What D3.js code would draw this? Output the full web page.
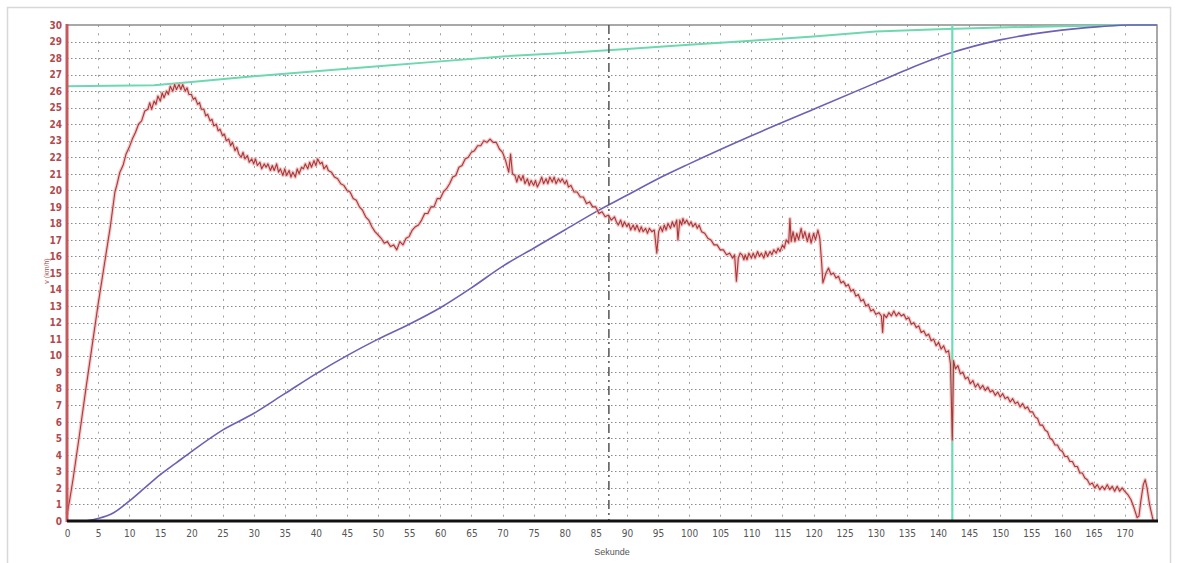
<!DOCTYPE html>
<html>
<head>
<meta charset="utf-8">
<script src="https://cdn.jsdelivr.net/npm/d3@7/dist/d3.min.js"></script>
<style>
  html, body { margin: 0; padding: 0; background: #fff; }
  svg { display: block; }
</style>
</head>
<body>
<svg id="chart" width="1177" height="563"></svg>
<script>
// ---------- DATA ----------
const xTicks = d3.range(0, 171, 5);
const yTicks = d3.range(0, 31, 1);
const xTitle = "Sekunde";
const yTitle = "v (km/h)";

// speed (red)
const speedSeries = [
  [0,0.4],[0.4,1.2],[1,2.6],[2,5.2],[3,7.9],[4,10.5],[5,13.1],[6,15.5],[7,17.9],[7.7,19.9],[8,20.3],[8.5,21.1],
  [9,21.5],[9.5,22.2],[10,22.6],[10.5,23.1],[11,23.5],[11.5,24.0],[12,24.2],[12.5,24.8],
  [13,24.9],[13.3,25.3],[13.6,24.9],[14,25.4],[14.3,25.2],[14.6,25.7],[15,25.4],[15.3,25.9],[15.6,25.6],[16,26.0],
  [16.3,25.8],[16.6,26.3],[17,26.0],[17.3,26.4],[17.6,26.1],[18,26.4],[18.3,26.1],[18.6,26.4],[19,26.0],[19.3,26.2],
  [19.6,25.8],[20,25.8],[20.3,25.5],[20.6,25.6],[21,25.2],[21.3,25.3],[21.6,24.9],[22,24.9],[22.3,24.5],[22.6,24.6],
  [23,24.2],[23.3,24.3],[23.6,23.9],[24,24.0],[24.3,23.6],[24.6,23.7],[25,23.3],[25.3,23.4],[25.6,23.0],[26,23.1],
  [26.3,22.7],[26.6,22.9],[27,22.4],[27.3,22.6],[27.6,22.2],[28,22.0],[28.3,22.3],[28.6,21.9],[29,22.1],[29.3,21.7],
  [29.7,21.9],[30,21.6],[30.3,21.9],[30.6,21.5],[31,21.7],[31.3,21.3],[31.7,21.6],[32,21.4],[32.3,21.6],[32.7,21.2],
  [33,21.5],[33.3,21.2],[33.7,21.6],[34,21.1],[34.3,21.3],[34.7,20.9],[35,21.3],[35.3,20.9],[35.7,21.2],[36,20.8],
  [36.3,21.1],[36.7,20.8],[37,21.3],[37.3,21.0],[37.7,21.4],[38,21.3],[38.3,21.6],[38.7,21.3],[39,21.7],[39.3,21.4],
  [39.7,21.8],[40,21.5],[40.3,21.9],[40.7,21.6],[41,21.7],[41.3,21.3],[41.7,21.5],[42,21.2],[42.5,21.1],[43,20.8],
  [43.5,20.7],[44,20.4],[44.5,20.3],[45,20.0],[45.5,19.9],[46,19.5],[46.5,19.4],[47,19.0],[47.5,18.8],[48,18.4],
  [48.5,18.2],[49,17.8],[49.5,17.5],[50,17.3],[50.5,17.1],[51,16.8],[51.5,16.9],[52,16.6],[52.5,16.7],[53,16.4],
  [53.5,16.9],[54,16.7],[54.5,17.1],[55,17.2],[55.5,17.6],[56,17.8],[56.5,17.9],[57,18.2],[57.5,18.6],[58,18.6],
  [58.5,19.0],[59,19.0],[59.5,19.5],[60,19.5],[60.5,19.9],[61,20.1],[61.5,20.4],[62,20.8],[62.5,20.9],[63,21.4],
  [63.5,21.5],[64,21.9],[64.5,22.0],[65,22.3],[65.5,22.4],[66,22.7],[66.5,22.7],[67,23.0],[67.5,22.9],[68,23.1],
  [68.5,22.9],[69,22.9],[69.5,22.5],[70,22.3],[70.5,21.8],[71,21.1],[71.3,22.2],[71.6,21.0],[72,20.9],[72.3,20.5],
  [72.6,20.9],[73,20.6],[73.3,20.9],[73.6,20.4],[74,20.7],[74.3,20.3],[74.6,20.6],[75,20.3],[75.3,20.6],[75.6,20.2],
  [76,20.5],[76.3,20.8],[76.6,20.4],[77,20.7],[77.3,20.4],[77.6,20.8],[78,20.5],[78.3,20.8],[78.6,20.4],[79,20.7],
  [79.3,20.5],[79.6,20.7],[80,20.4],[80.3,20.6],[80.6,20.2],[81,20.3],[81.5,19.9],[82,19.9],[82.5,19.6],[83,19.6],
  [83.5,19.2],[84,19.3],[84.5,19.0],[85,19.0],[85.5,18.6],[86,18.7],[86.5,18.4],[87,18.5],[87.5,18.2],[88,18.4],
  [88.3,18.1],[88.6,17.9],[89,18.2],[89.3,17.8],[89.6,18.1],[90,17.8],[90.3,18.0],[90.6,17.6],[91,17.9],[91.3,17.6],
  [91.6,17.9],[92,17.5],[92.3,17.8],[92.6,17.5],[93,17.7],[93.3,17.4],[93.6,17.7],[94,17.5],[94.4,17.6],[94.8,16.2],
  [95.1,17.5],[95.4,17.8],[95.7,17.5],[96,17.9],[96.3,17.6],[96.6,18.0],[97,17.7],[97.3,18.1],[97.6,17.8],[98,18.2],
  [98.2,17.0],[98.5,18.2],[98.8,17.9],[99,18.3],[99.3,18.0],[99.6,18.2],[100,17.9],[100.3,18.1],[100.6,17.8],[101,18.0],
  [101.3,17.7],[101.6,17.9],[102,17.5],[102.5,17.4],[103,17.1],[103.5,17.0],[104,16.7],[104.5,16.7],[105,16.4],[105.5,16.4],
  [106,16.1],[106.5,16.2],[107,15.9],[107.3,16.1],[107.6,14.5],[107.9,15.9],[108.2,16.2],[108.5,16.1],[108.8,15.8],[109,16.1],
  [109.3,15.8],[109.6,16.2],[110,15.9],[110.3,16.2],[110.6,15.9],[111,16.3],[111.3,16.0],[111.6,16.2],[112,15.9],[112.3,16.3],
  [112.6,16.0],[113,16.3],[113.3,16.1],[113.6,16.4],[114,16.2],[114.3,16.5],[114.6,16.3],[115,16.7],[115.3,16.5],[115.6,17.0],
  [116,16.8],[116.2,18.3],[116.4,16.9],[116.7,17.5],[117,16.9],[117.3,17.4],[117.6,17.0],[118,17.7],[118.3,17.1],[118.6,17.5],
  [119,16.9],[119.3,17.4],[119.6,16.8],[120,17.4],[120.3,17.0],[120.7,17.6],[121,17.1],[121.3,15.6],[121.5,14.4],[122,15.0],
  [122.4,15.3],[122.8,14.9],[123.2,15.0],[123.6,14.7],[124,14.8],[124.4,14.4],[124.8,14.5],[125.2,14.2],[125.6,14.3],[126,13.9],
  [126.4,14.0],[126.8,13.6],[127.2,13.7],[127.6,13.3],[128,13.4],[128.4,13.0],[128.8,13.1],[129.2,12.7],[129.6,12.8],[130,12.5],
  [130.5,12.6],[130.9,12.4],[131.1,11.4],[131.3,12.5],[131.7,12.3],[132.1,12.6],[132.5,12.4],[132.9,12.7],[133.3,12.4],[133.7,12.6],
  [134.1,12.4],[134.5,12.5],[134.9,12.2],[135.3,12.3],[135.7,11.9],[136.1,12.0],[136.5,11.7],[136.9,11.8],[137.3,11.4],[137.7,11.5],
  [138.1,11.2],[138.5,11.3],[138.9,10.9],[139.3,11.0],[139.7,10.6],[140.1,10.8],[140.5,10.4],[140.9,10.6],[141.3,10.2],[141.7,10.3],
  [142.0,9.5],[142.3,4.9],[142.5,9.7],[142.8,9.2],[143.2,9.4],[143.6,8.9],[144,9.0],[144.4,8.6],[144.8,8.7],[145.2,8.3],
  [145.6,8.5],[146,8.1],[146.4,8.3],[146.8,8.0],[147.2,8.2],[147.6,7.9],[148,8.1],[148.4,7.8],[148.8,7.9],[149.2,7.6],
  [149.6,7.8],[150,7.5],[150.4,7.7],[150.8,7.4],[151.2,7.5],[151.6,7.2],[152,7.4],[152.4,7.1],[152.8,7.2],[153.2,6.9],
  [153.6,7.1],[154,6.8],[154.4,6.9],[154.8,6.6],[155.2,6.6],[155.6,6.3],[156,6.2],[156.4,5.8],[156.8,5.8],[157.2,5.5],
  [157.6,5.4],[158,5.0],[158.4,4.9],[158.8,4.6],[159.2,4.6],[159.6,4.3],[160,4.2],[160.4,3.9],[160.8,3.9],[161.2,3.6],
  [161.6,3.6],[162,3.3],[162.4,3.3],[162.8,2.9],[163.2,2.9],[163.6,2.6],[164,2.5],[164.4,2.2],[164.8,2.3],[165.2,2.0],
  [165.6,2.2],[166,1.9],[166.4,2.1],[166.8,1.9],[167.2,2.2],[167.6,1.9],[168,2.1],[168.4,1.8],[168.8,2.1],[169.2,1.8],
  [169.6,2.0],[170,1.8],[170.5,1.6],[171,1.3],[171.5,0.8],[172,0.2],[172.3,0.3],[172.6,1.2],[173,2.2],[173.3,2.5],
  [173.6,2.0],[174,1.0],[174.6,0.0]
];

// distance-like cumulative curve (purple)
const distSeries = [
  [3,0],[5,0.15],[7.5,0.5],[10,1.2],[12.5,2.0],[15,2.8],[17.5,3.5],[20,4.2],[25,5.5],[30,6.5],[35,7.7],
  [40,8.9],[45,10.0],[50,11.0],[55,11.9],[60,12.9],[65,14.1],[70,15.4],[75,16.5],[80,17.6],[85,18.7],
  [90,19.7],[95,20.7],[100,21.6],[110,23.3],[120,24.9],[130,26.5],[135,27.3],[142,28.3],[150,29.1],
  [158,29.6],[166,29.9],[171,30],[175.2,30]
];

// upper curve (green)
const upperSeries = [
  [0,26.3],[14,26.35],[20,26.55],[30,26.9],[40,27.2],[50,27.5],[60,27.8],[70,28.1],[80,28.3],[90,28.55],
  [100,28.8],[110,29.05],[120,29.3],[130,29.6],[140,29.75],[150,29.85],[160,29.93],[170,30],[175.2,30]
];

// markers
const cursorDashed = 87.1;
const cursorGreen = 142.3;
const xMax = 175.2;

// ---------- DRAW ----------
const svg = d3.select("#chart");
const L = 67, R = 1157, T = 25, B = 521;
const x = d3.scaleLinear().domain([0, xMax]).range([L, R]);
const y = d3.scaleLinear().domain([0, 30]).range([B, T]);

// outer frame
svg.append("rect").attr("x", 7.5).attr("y", 7.5).attr("width", 1163).attr("height", 570)
  .attr("fill", "none").attr("stroke", "#d8d8d8").attr("stroke-width", 1.5);

// horizontal grid
svg.append("g").selectAll("line").data(yTicks.filter(v => v > 0 && v < 30)).join("line")
  .attr("x1", L).attr("x2", R).attr("y1", d => Math.round(y(d)) + 0.5).attr("y2", d => Math.round(y(d)) + 0.5)
  .attr("stroke", "#8a8a8a").attr("stroke-width", 1).attr("stroke-dasharray", "1.5,2.5");

// vertical grid
svg.append("g").selectAll("line").data(xTicks.filter(v => v > 0)).join("line")
  .attr("x1", d => Math.round(x(d)) + 0.5).attr("x2", d => Math.round(x(d)) + 0.5).attr("y1", T).attr("y2", B)
  .attr("stroke", "#a0a0a0").attr("stroke-width", 1).attr("stroke-dasharray", "2,6.3");

// plot border
svg.append("rect").attr("x", L).attr("y", T).attr("width", R - L).attr("height", B - T)
  .attr("fill", "none").attr("stroke", "#8c8c8c").attr("stroke-width", 1.5);

const line = d3.line().x(d => x(d[0])).y(d => y(d[1]));

// green upper curve
svg.append("path").datum(upperSeries).attr("d", line)
  .attr("fill", "none").attr("stroke", "#6ed8b0").attr("stroke-width", 2);

// purple curve
svg.append("path").datum(distSeries).attr("d", d3.line().curve(d3.curveMonotoneX).x(d => x(d[0])).y(d => y(d[1])))
  .attr("fill", "none").attr("stroke", "#6f5fb5").attr("stroke-width", 1.6);

// dashed cursor
svg.append("line").attr("x1", x(cursorDashed)).attr("x2", x(cursorDashed)).attr("y1", T).attr("y2", B)
  .attr("stroke", "#555").attr("stroke-width", 1.5).attr("stroke-dasharray", "9,4,2,4");

// green cursor
svg.append("line").attr("x1", x(cursorGreen)).attr("x2", x(cursorGreen)).attr("y1", T).attr("y2", B)
  .attr("stroke", "#6fdcb4").attr("stroke-width", 2.2);

// red speed curve with halo
svg.append("path").datum(speedSeries).attr("d", line)
  .attr("fill", "none").attr("stroke", "#eaa4a4").attr("stroke-width", 3.5).attr("stroke-opacity", 0.6)
  .attr("stroke-linejoin", "round");
svg.append("path").datum(speedSeries).attr("d", line)
  .attr("fill", "none").attr("stroke", "#a8383a").attr("stroke-width", 1.1).attr("stroke-linejoin", "round");

// left axis (red thick)
svg.append("line").attr("x1", L).attr("x2", L).attr("y1", T - 1).attr("y2", B + 1)
  .attr("stroke", "#c8585c").attr("stroke-width", 3);
// bottom axis (black thick)
svg.append("line").attr("x1", L).attr("x2", R + 1).attr("y1", B).attr("y2", B)
  .attr("stroke", "#111").attr("stroke-width", 3);

// y tick labels
const yAxis = d3.axisLeft(y).tickValues(yTicks).tickSize(0).tickPadding(5).tickFormat(d3.format("d"));
const gy = svg.append("g").attr("transform", `translate(${L},0)`).call(yAxis);
gy.select(".domain").remove();
gy.selectAll("text").attr("fill", "#b04a50")
  .style("font-family", "'Liberation Sans Narrow', 'DejaVu Sans Condensed', sans-serif")
  .style("font-size", "10px").style("font-weight", "bold");

// x tick labels
const xAxis = d3.axisBottom(x).tickValues(xTicks).tickSize(0).tickPadding(9).tickFormat(d3.format("d"));
const gx = svg.append("g").attr("transform", `translate(0,${B})`).call(xAxis);
gx.select(".domain").remove();
gx.selectAll("text").attr("fill", "#555")
  .style("font-family", "'Liberation Sans Narrow', 'DejaVu Sans Condensed', sans-serif")
  .style("font-size", "10px");

// titles
svg.append("text").attr("x", 612).attr("y", 555).attr("text-anchor", "middle")
  .attr("fill", "#555").style("font-family", "'Liberation Sans Narrow', sans-serif").style("font-size", "9px")
  .text(xTitle);
svg.append("text").attr("transform", "translate(49,271) rotate(-90)").attr("text-anchor", "middle")
  .attr("fill", "#b04a50").style("font-family", "'Liberation Sans Narrow', sans-serif").style("font-size", "7px")
  .text(yTitle);
</script>
</body>
</html>
